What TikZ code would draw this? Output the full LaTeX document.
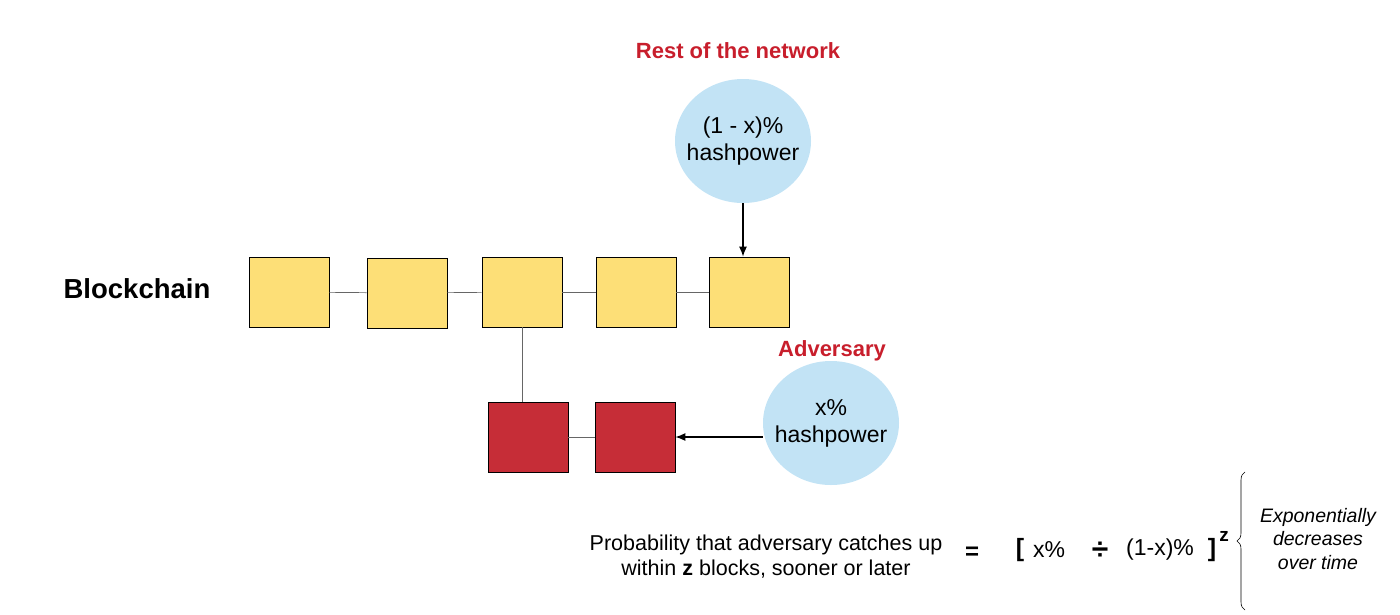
\documentclass[tikz,border=0pt]{standalone}
\usepackage{fontspec}
\setmainfont{Liberation Sans}
\usetikzlibrary{decorations.pathreplacing,shapes.geometric,arrows.meta}
\definecolor{yb}{HTML}{FDDF77}
\definecolor{rb}{HTML}{C62D37}
\definecolor{cb}{HTML}{C2E3F5}
\definecolor{rt}{HTML}{C81E2C}
\begin{document}
\begin{tikzpicture}[x=1pt,y=-1pt,
 yblk/.style={draw=black,line width=0.8pt,fill=yb,minimum width=80pt,minimum height=70pt,inner sep=0},
 rblk/.style={draw=black,line width=0.8pt,fill=rb,minimum width=80pt,minimum height=70pt,inner sep=0},
 circ/.style={ellipse,fill=cb,inner sep=0,minimum width=136pt,minimum height=124pt},
 ctxt/.style={align=center,font=\fontsize{23}{27}\selectfont},
 lnk/.style={draw=gray!80!black,line width=0.7pt},
 arr/.style={-{Latex[length=10pt,width=8pt]},line width=1.2pt},
 red/.style={text=rt,font=\bfseries\fontsize{22}{26}\selectfont}]
\useasboundingbox (0,0) rectangle (1400,614);
\node[yblk] (b1) at (289,292) {};
\node[yblk] (b2) at (407,293) {};
\node[yblk] (b3) at (522,292) {};
\node[yblk] (b4) at (636,292) {};
\node[yblk] (b5) at (749,292) {};
\node[rblk] (r1) at (528,437) {};
\node[rblk] (r2) at (635,437) {};
\draw[lnk] (b1)--(b2); \draw[lnk] (b2)--(b3); \draw[lnk] (b3)--(b4); \draw[lnk] (b4)--(b5);
\draw[lnk] (r1)--(r2);
\draw[lnk] (b3.south) -- (r1.north -| b3.south);
\node[circ] (c1) at (743,141) {};
\node[ctxt] (c1t) at (c1) {(1 - x)\%\\hashpower};
\node[circ] (c2) at (831,423) {};
\node[ctxt] (c2t) at (c2) {x\%\\hashpower};
\draw[arr] (c1.south) -- (c1.south |- b5.north);
\draw[arr] (c2.west |- r2.east) -- (r2.east);
\node[red] (t1) at (738,51) {Rest of the network};
\node[red] (t2) at (832,351) {Adversary};
\node[font=\bfseries\fontsize{27.5}{32}\selectfont] (bc) at (137,289) {Blockchain};
\node[align=center,font=\fontsize{21.5}{25}\selectfont] (p) at (766,557) {Probability that adversary catches up\\within \textbf{z} blocks, sooner or later};
\node[font=\bfseries\fontsize{24}{28}\selectfont] (eq) at (972,553) {=};
\node[font=\bfseries\fontsize{25}{28}\selectfont] (lb) at (1020,550) {[};
\node[font=\fontsize{23}{27}\selectfont] (xp) at (1049,550) {x\%};
\node[font=\bfseries\fontsize{30}{32}\selectfont] (dv) at (1100,551) {÷};
\node[font=\fontsize{23}{27}\selectfont] (yp) at (1160,550) {(1-x)\%};
\node[font=\bfseries\fontsize{25}{28}\selectfont] (rb2) at (1212,550) {]};
\node[font=\bfseries\fontsize{19}{22}\selectfont] (z) at (1224,536) {z};
\coordinate (ba) at (1245,472);
\coordinate (bb) at (1245,610);
\draw[line width=0.6pt,decorate,decoration={brace,amplitude=8pt,aspect=0.5}] (bb) -- (ba);
\node[align=center,font=\itshape\fontsize{19.5}{23.5}\selectfont] (ex) at (1318,539) {Exponentially\\decreases\\over time};
\end{tikzpicture}
\end{document}
